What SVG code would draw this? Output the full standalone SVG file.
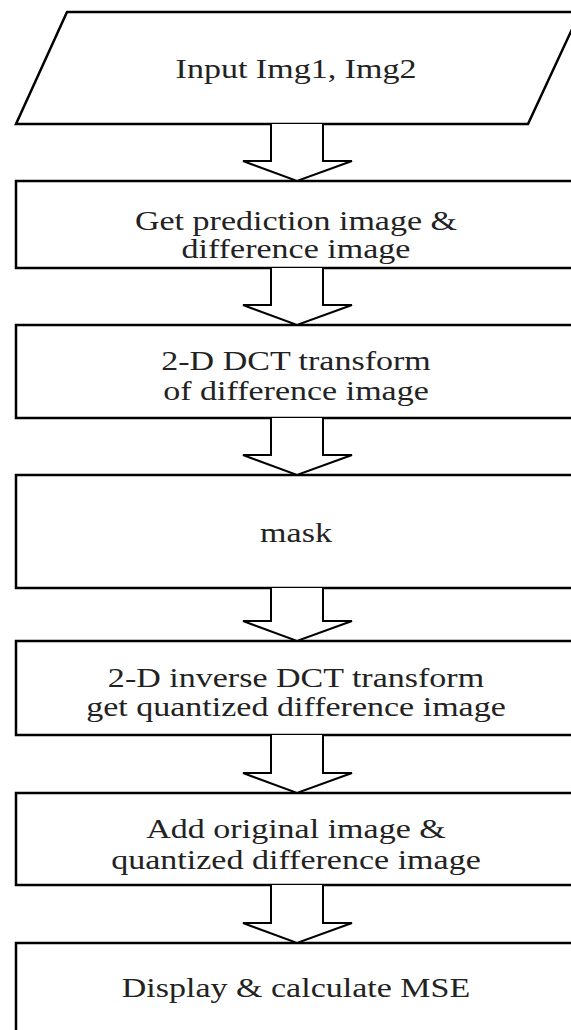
<svg xmlns="http://www.w3.org/2000/svg" width="571" height="1030" viewBox="0 0 571 1030">
<style>
.box{fill:#fff;stroke:#000;stroke-width:2.5}
.arr{fill:#fff;stroke:#000;stroke-width:2;stroke-linejoin:miter}
text{font-family:"Liberation Serif","Times New Roman",serif;font-size:27px;fill:#222;text-anchor:middle}
</style>
<rect width="571" height="1030" fill="#fff"/>
<g id="n0"><polygon class="box" points="67,12 580,12 528,124 16,124"/><text transform="translate(296,0) scale(1.26,1)" x="0" y="78">Input Img1, Img2</text></g>
<g id="n1"><rect class="box" x="16" y="181" width="600" height="87"/><g transform="translate(296,0) scale(1.26,1)"><text x="0" y="230">Get prediction image &amp;</text><text x="0" y="258">difference image</text></g></g>
<g id="n2"><rect class="box" x="16" y="325" width="600" height="93"/><g transform="translate(296,0) scale(1.26,1)"><text x="0" y="370">2-D DCT transform</text><text x="0" y="400">of difference image</text></g></g>
<g id="n3"><rect class="box" x="16" y="475" width="600" height="113"/><text transform="translate(296,0) scale(1.26,1)" x="0" y="542">mask</text></g>
<g id="n4"><rect class="box" x="16" y="641" width="600" height="94"/><g transform="translate(296,0) scale(1.26,1)"><text x="0" y="687">2-D inverse DCT transform</text><text x="0" y="716">get quantized difference image</text></g></g>
<g id="n5"><rect class="box" x="16" y="793" width="600" height="92"/><g transform="translate(296,0) scale(1.26,1)"><text x="0" y="838">Add original image &amp;</text><text x="0" y="869">quantized difference image</text></g></g>
<g id="n6"><rect class="box" x="16" y="943" width="600" height="120"/><text transform="translate(296,0) scale(1.26,1)" x="0" y="997">Display &amp; calculate MSE</text></g>
<g id="connectors">
<path class="arr" d="M271,124 V161 H243 L297,181 L352,161 H323 V124"/>
<path class="arr" d="M271,268 V305 H243 L297,325 L352,305 H323 V268"/>
<path class="arr" d="M271,418 V455 H243 L297,475 L352,455 H323 V418"/>
<path class="arr" d="M271,588 V621 H243 L297,641 L352,621 H323 V588"/>
<path class="arr" d="M271,735 V773 H243 L297,793 L352,773 H323 V735"/>
<path class="arr" d="M271,885 V923 H243 L297,943 L352,923 H323 V885"/>
</g>
</svg>
